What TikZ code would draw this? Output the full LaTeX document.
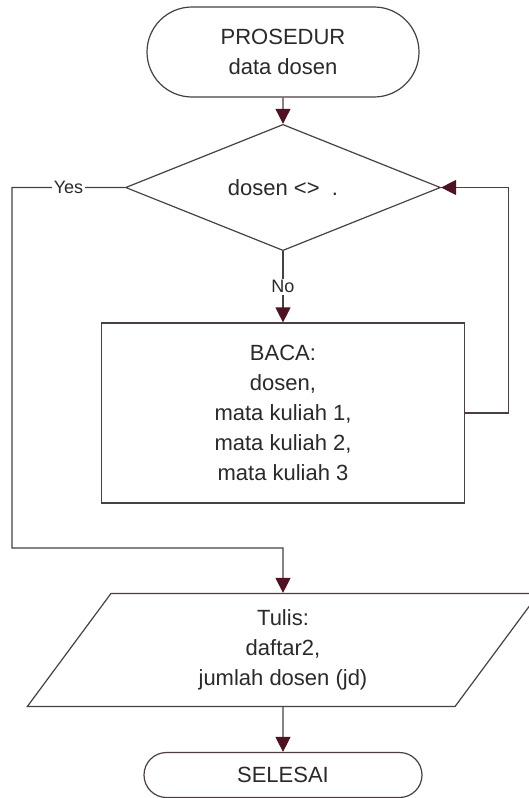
\documentclass[tikz,border=0pt]{standalone}
\usepackage{fontspec}
\setmainfont{Liberation Sans}
\usetikzlibrary{shapes.geometric,shapes.misc,arrows.meta,calc}

\definecolor{garis}{HTML}{4A3F42}
\definecolor{panah}{HTML}{4E1222}
\definecolor{teks}{HTML}{2A2A2A}

\begin{document}
\begin{tikzpicture}[x=1pt, y=-1pt, line width=1.2pt, color=garis, text=teks,
    isi/.style={font=\fontsize{22}{30}\selectfont, align=center, inner sep=0pt},
    terminal/.style={isi, draw, rounded rectangle, minimum width=#1, minimum height=90pt},
    keputusan/.style={isi, draw, diamond, minimum width=315pt, minimum height=89pt},
    proses/.style={isi, draw, rectangle, minimum width=363pt, minimum height=180pt},
    masukan/.style={isi, draw, trapezium, trapezium left angle=63, trapezium right angle=117,
      trapezium stretches=true, minimum width=512pt, minimum height=113pt},
    ket/.style={font=\fontsize{18}{20}\selectfont, fill=white, inner sep=1.5pt},
    panah/.style={-{Triangle[width=15pt, length=15pt, color=panah]}}]
        \useasboundingbox (0,0) rectangle (529,798);
        \fill[white] (0,0) rectangle (529,798);

        % Flowchart blocks
        \node[terminal=272pt] (mulai) at (283,52) {PROSEDUR\\data dosen};
        \node[keputusan] (cek) at (283,187.5) {dosen <>\ \ .};
        \node[proses] (baca) at (283,413)
          {BACA:\\dosen,\\mata kuliah 1,\\mata kuliah 2,\\mata kuliah 3};
        \node[masukan] (tulis) at (283,650) {Tulis:\\daftar2,\\jumlah dosen (jd)};
        \node[terminal=278pt, minimum height=45pt] (selesai) at (283,775) {SELESAI};

        % Corners of the two loops
        \coordinate (ya1) at (12,187.5);
        \coordinate (ya2) at (12,548);
        \coordinate (gabung) at (283,548);
        \coordinate (balik1) at ($(baca.east)+(43,0)$);
        \coordinate (balik2) at (balik1 |- cek.east);

        % Connectors
        \draw[panah] (mulai) -- (cek);
        \draw[panah] (cek.south) -- node[ket] {No} (baca.north);
        \draw[panah] (cek.west) -- node[ket] {Yes} (ya1) -- (ya2) -- (gabung) -- (tulis.north);
        \draw[panah] (baca.east) -- (balik1) -- (balik2) -- (cek.east);
        \draw[panah] (tulis.south) -- (selesai.north);

      \end{tikzpicture}
\end{document}
